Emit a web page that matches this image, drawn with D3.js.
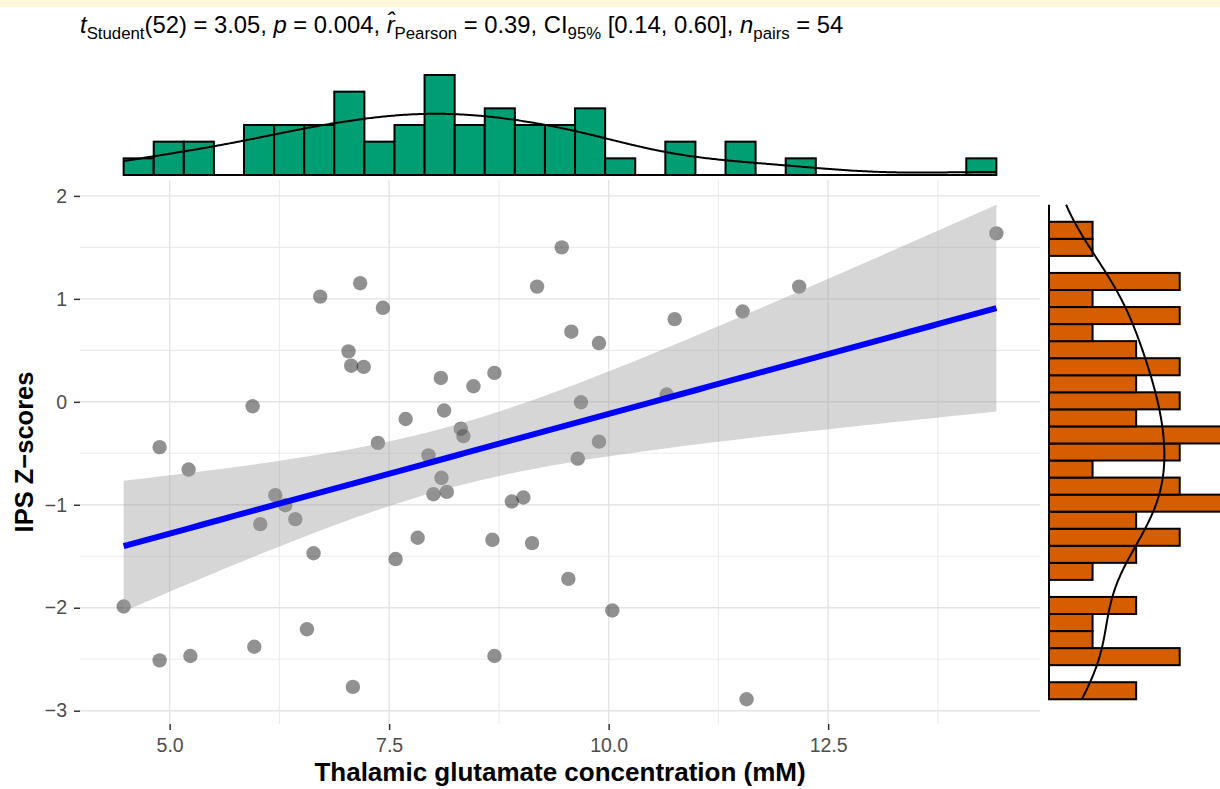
<!DOCTYPE html>
<html>
<head>
<meta charset="utf-8">
<script src="https://cdn.jsdelivr.net/npm/d3@7"></script>
<style>
  body { margin: 0; background: #fff; }
  text { font-family: "Liberation Sans", Arial, sans-serif; }
</style>
</head>
<body>
<div id="chart"></div>
<script>
// data
var glutamate = [4.476, 4.886, 4.886, 5.216, 5.236, 5.945, 5.964, 6.032, 6.203, 6.317,
  6.431, 6.564, 6.639, 6.715, 7.037, 7.068, 7.087, 7.170, 7.210, 7.372,
  7.429, 7.574, 7.688, 7.825, 7.948, 8.004, 8.089, 8.096, 8.126, 8.157,
  8.316, 8.346, 8.460, 8.676, 8.699, 8.699, 8.897, 9.029, 9.128, 9.185,
  9.466, 9.541, 9.575, 9.648, 9.685, 9.890, 9.890, 10.042, 10.661, 10.752,
  11.526, 11.571, 12.170, 14.416];
var ipsZ = [-1.988, -0.440, -2.511, -0.658, -2.469, -0.043, -2.379, -1.188, -0.907, -1.004,
  -1.139, -2.209, -1.471, 1.022, 0.490, 0.351, -2.769, 1.152, 0.339, -0.399,
  0.913, -1.527, -0.167, -1.320, -0.520, -0.897, 0.232, -0.738, -0.084, -0.875,
  -0.261, -0.333, 0.151, -1.340, 0.281, -2.469, -0.968, -0.929, -1.372, 1.119,
  1.500, -1.720, 0.681, -0.552, -0.004, 0.571, -0.387, -2.027, 0.071, 0.803,
  0.877, -2.889, 1.119, 1.636];

// marginal histogram counts (29 bins each)
var topCounts = [1, 2, 2, 0, 3, 3, 3, 5, 2, 3, 6, 3, 4, 3, 3, 4, 1, 0, 2, 0, 2, 0, 1, 0, 0, 0, 0, 0, 1];
// right histogram, from the lowest bin up
var rightCounts = [2, 0, 3, 1, 1, 2, 0, 1, 2, 3, 2, 4, 3, 1, 3, 4, 2, 3, 2, 3, 2, 1, 3, 1, 3, 0, 1, 1, 0];

var xTicks = [5, 7.5, 10, 12.5];
var xTickLabels = ["5.0", "7.5", "10.0", "12.5"];
var xMinor = [6.25, 8.75, 11.25, 13.75];
var yTicks = [-3, -2, -1, 0, 1, 2];
var yMinor = [-2.5, -1.5, -0.5, 0.5, 1.5];

var width = 1220, height = 789;
var panel = { left: 80, right: 1040, top: 180, bottom: 724 };

var svg = d3.select("#chart").append("svg")
  .attr("width", width)
  .attr("height", height);

svg.append("rect").attr("width", width).attr("height", 7).attr("fill", "#fff8dc");

// linear fit with 95% band
var n = glutamate.length;
var pts = glutamate.map(function (g, i) { return { x: g, y: ipsZ[i] }; });
var xMean = d3.mean(glutamate), yMean = d3.mean(ipsZ);
var sxx = d3.sum(glutamate, function (d) { return (d - xMean) * (d - xMean); });
var sxy = d3.sum(pts, function (d) { return (d.x - xMean) * (d.y - yMean); });
var slope = sxy / sxx, icpt = yMean - slope * xMean;
var rss = d3.sum(pts, function (d) { var e = d.y - icpt - slope * d.x; return e * e; });
var sRes = Math.sqrt(rss / (n - 2));
var tCrit = 2.0066; // qt(0.975, 52)
var xExt = d3.extent(glutamate);
var fit = d3.range(80).map(function (i) {
  var xv = xExt[0] + (xExt[1] - xExt[0]) * i / 79;
  var yh = icpt + slope * xv;
  var se = sRes * Math.sqrt(1 / n + (xv - xMean) * (xv - xMean) / sxx);
  return { x: xv, y: yh, lo: yh - tCrit * se, hi: yh + tCrit * se };
});
var yLo = Math.min(d3.min(ipsZ), d3.min(fit, function (d) { return d.lo; }));
var yHi = Math.max(d3.max(ipsZ), d3.max(fit, function (d) { return d.hi; }));

function expand(a, b) { var p = (b - a) * 0.05; return [a - p, b + p]; }

var x = d3.scaleLinear().domain(expand(xExt[0], xExt[1])).range([panel.left, panel.right]);
var y = d3.scaleLinear().domain(expand(yLo, yHi)).range([panel.bottom, panel.top]);

// grid
var grid = svg.append("g");
grid.selectAll(".vmin").data(xMinor).enter().append("line")
  .attr("x1", function (d) { return x(d); }).attr("x2", function (d) { return x(d); })
  .attr("y1", panel.top).attr("y2", panel.bottom)
  .attr("stroke", "#ebebeb").attr("stroke-width", 1.1);
grid.selectAll(".hmin").data(yMinor).enter().append("line")
  .attr("y1", function (d) { return y(d); }).attr("y2", function (d) { return y(d); })
  .attr("x1", panel.left).attr("x2", panel.right)
  .attr("stroke", "#ebebeb").attr("stroke-width", 1.1);
grid.selectAll(".vmaj").data(xTicks).enter().append("line")
  .attr("x1", function (d) { return x(d); }).attr("x2", function (d) { return x(d); })
  .attr("y1", panel.top).attr("y2", panel.bottom)
  .attr("stroke", "#e4e4e4").attr("stroke-width", 1.4);
grid.selectAll(".hmaj").data(yTicks).enter().append("line")
  .attr("y1", function (d) { return y(d); }).attr("y2", function (d) { return y(d); })
  .attr("x1", panel.left).attr("x2", panel.right)
  .attr("stroke", "#e4e4e4").attr("stroke-width", 1.4);

// points
svg.append("g").selectAll("circle").data(pts).enter().append("circle")
  .attr("cx", function (d) { return x(d.x); })
  .attr("cy", function (d) { return y(d.y); })
  .attr("r", 7.2)
  .attr("fill", "black")
  .attr("fill-opacity", 0.43);

// ribbon + line
svg.append("path").datum(fit)
  .attr("d", d3.area().x(function (d) { return x(d.x); })
    .y0(function (d) { return y(d.lo); }).y1(function (d) { return y(d.hi); }))
  .attr("fill", "#999999").attr("fill-opacity", 0.4);
svg.append("path").datum(fit)
  .attr("d", d3.line().x(function (d) { return x(d.x); }).y(function (d) { return y(d.y); }))
  .attr("fill", "none").attr("stroke", "#0000ff").attr("stroke-width", 6);

// axes
var xAxis = svg.append("g").attr("transform", "translate(0," + panel.bottom + ")")
  .call(d3.axisBottom(x).tickValues(xTicks)
    .tickFormat(function (d, i) { return xTickLabels[i]; })
    .tickSize(6).tickPadding(8));
var yAxis = svg.append("g").attr("transform", "translate(" + panel.left + ",0)")
  .call(d3.axisLeft(y).tickValues(yTicks)
    .tickFormat(function (d) { return d < 0 ? "\u2212" + Math.abs(d) : d; })
    .tickSize(6).tickPadding(7));
[xAxis, yAxis].forEach(function (g) {
  g.select(".domain").remove();
  g.selectAll(".tick line").attr("stroke", "#333").attr("stroke-width", 1.5);
  g.selectAll(".tick text").attr("fill", "#4d4d4d").style("font-size", "19.5px")
    .style("font-family", "'Liberation Sans', Arial, sans-serif");
});

// density helper (gaussian kernel, nrd0 bandwidth)
function bwNrd0(v) {
  var s = d3.deviation(v);
  var sorted = v.slice().sort(d3.ascending);
  var iqr = d3.quantile(sorted, 0.75) - d3.quantile(sorted, 0.25);
  return 0.9 * Math.min(s, iqr / 1.34) * Math.pow(v.length, -0.2);
}
function kde(v, lo, hi, scale) {
  var bw = bwNrd0(v);
  return d3.range(512).map(function (i) {
    var t = lo + (hi - lo) * i / 511;
    var f = d3.mean(v, function (d) { var z = (t - d) / bw; return Math.exp(-0.5 * z * z); }) / (bw * Math.sqrt(2 * Math.PI));
    return [t, f * scale];
  });
}

// top marginal histogram
var binW = (xExt[1] - xExt[0]) / topCounts.length;
var topBins = topCounts.map(function (c, i) {
  return { x0: xExt[0] + i * binW, x1: xExt[0] + (i + 1) * binW, c: c };
});
var yTop = d3.scaleLinear().domain([0, d3.max(topCounts) * 1.05]).range([175, 70]);
var topG = svg.append("g");
topG.append("line")
  .attr("x1", x(xExt[0])).attr("x2", x(xExt[1]))
  .attr("y1", yTop(0)).attr("y2", yTop(0))
  .attr("stroke", "black").attr("stroke-width", 2);
topG.selectAll("rect").data(topBins.filter(function (d) { return d.c > 0; })).enter().append("rect")
  .attr("x", function (d) { return x(d.x0); })
  .attr("width", function (d) { return x(d.x1) - x(d.x0); })
  .attr("y", function (d) { return yTop(d.c); })
  .attr("height", function (d) { return yTop(0) - yTop(d.c); })
  .attr("fill", "#009E73").attr("stroke", "black").attr("stroke-width", 2);
topG.append("path").datum(kde(glutamate, xExt[0], xExt[1], n * binW))
  .attr("d", d3.line().x(function (d) { return x(d[0]); }).y(function (d) { return yTop(d[1]); }))
  .attr("fill", "none").attr("stroke", "black").attr("stroke-width", 2);

// right marginal histogram
var binH = (yHi - yLo) / rightCounts.length;
var rightBins = rightCounts.map(function (c, i) {
  return { y0: yLo + i * binH, y1: yLo + (i + 1) * binH, c: c };
});
var xRight = d3.scaleLinear().domain([0, d3.max(rightCounts) * 1.05]).range([1049, 1232]);
var rightG = svg.append("g");
rightG.append("line")
  .attr("y1", y(yLo)).attr("y2", y(yHi))
  .attr("x1", xRight(0)).attr("x2", xRight(0))
  .attr("stroke", "black").attr("stroke-width", 2);
rightG.selectAll("rect").data(rightBins.filter(function (d) { return d.c > 0; })).enter().append("rect")
  .attr("x", xRight(0))
  .attr("width", function (d) { return xRight(d.c) - xRight(0); })
  .attr("y", function (d) { return y(d.y1); })
  .attr("height", function (d) { return y(d.y0) - y(d.y1); })
  .attr("fill", "#D55E00").attr("stroke", "black").attr("stroke-width", 2);
rightG.append("path").datum(kde(ipsZ, yLo, yHi, n * binH))
  .attr("d", d3.line().x(function (d) { return xRight(d[1]); }).y(function (d) { return y(d[0]); }))
  .attr("fill", "none").attr("stroke", "black").attr("stroke-width", 2);

// axis titles
svg.append("text")
  .attr("x", (panel.left + panel.right) / 2).attr("y", 781)
  .attr("text-anchor", "middle")
  .style("font-size", "26px").style("font-weight", "bold")
  .text("Thalamic glutamate concentration (mM)");
svg.append("text")
  .attr("transform", "translate(33," + (panel.top + panel.bottom) / 2 + ")rotate(-90)")
  .attr("text-anchor", "middle")
  .style("font-size", "25.5px").style("font-weight", "bold")
  .text("IPS Z\u2212scores");

// subtitle with statistics
var titleParts = [
  { t: "t", it: true }, { t: "Student", sub: true }, { t: "(52) = 3.05, " },
  { t: "p", it: true }, { t: " = 0.004, " },
  { t: "r\u0302", it: true }, { t: "Pearson", sub: true }, { t: " = 0.39, CI" },
  { t: "95%", sub: true }, { t: " [0.14, 0.60], " },
  { t: "n", it: true }, { t: "pairs", sub: true }, { t: " = 54" }
];
var title = svg.append("text")
  .attr("x", 80).attr("y", 33)
  .style("font-size", "23.8px").style("white-space", "pre").attr("fill", "black");
var shifted = false;
titleParts.forEach(function (p) {
  var ts = title.append("tspan").text(p.t);
  if (p.it) ts.style("font-style", "italic");
  if (p.sub) {
    ts.style("font-size", "16.8px");
    if (!shifted) { ts.attr("dy", 5.5); shifted = true; }
  } else if (shifted) {
    ts.attr("dy", -5.5); shifted = false;
  }
});
</script>
</body>
</html>
